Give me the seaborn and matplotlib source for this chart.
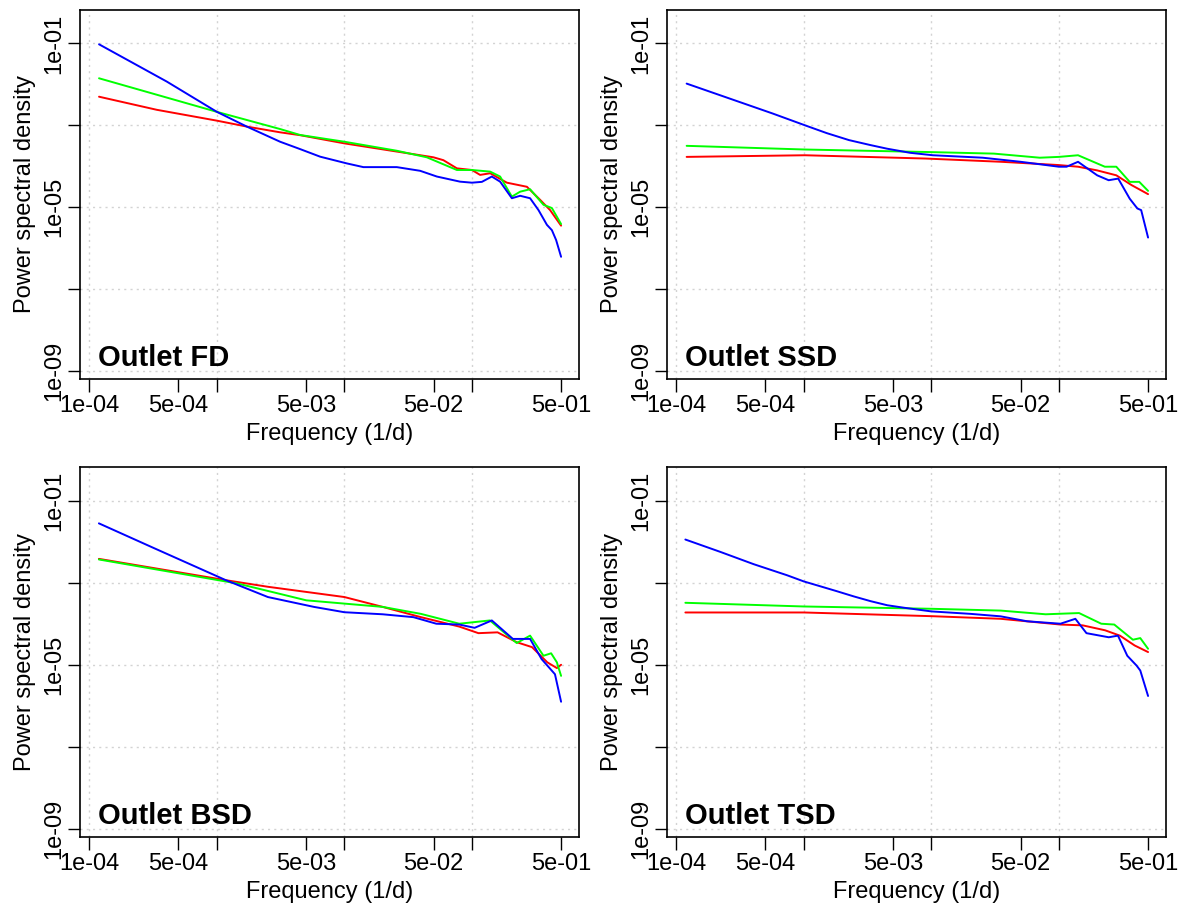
import numpy as np
import pandas as pd
import seaborn as sns
import matplotlib.pyplot as plt
from matplotlib.ticker import NullLocator

# valores: log10(frequencia) e log10(densidade espectral)
# Outlet FD
fd_blue_f = [-3.924, -3.393, -3.0, -2.765, -2.504, -2.347, -2.19, -1.98, -1.851, -1.589, -1.406, -1.275,
             -1.093, -1.0, -0.922, -0.844, -0.779, -0.687, -0.622, -0.544, -0.478, -0.412, -0.373, -0.340, -0.301]
fd_blue_p = [-1.02, -1.93, -2.67, -3.03, -3.40, -3.58, -3.765, -3.93, -4.02, -4.02, -4.11, -4.25,
             -4.375, -4.40, -4.38, -4.25, -4.375, -4.78, -4.72, -4.78, -5.07, -5.43, -5.56, -5.80, -6.21]
fd_red_f = [-3.924, -3.471, -3.0, -2.765, -2.504, -2.347, -2.0, -1.589, -1.302, -1.224, -1.118, -1.0,
            -0.936, -0.857, -0.726, -0.569, -0.465, -0.387, -0.301]
fd_red_p = [-2.30, -2.62, -2.885, -3.03, -3.17, -3.24, -3.44, -3.64, -3.78, -3.85, -4.05, -4.09,
            -4.21, -4.17, -4.40, -4.50, -4.82, -5.07, -5.45]
fd_green_f = [-3.924, -3.0, -2.504, -2.347, -2.0, -1.589, -1.354, -1.118, -1.0, -0.857, -0.779, -0.687,
              -0.622, -0.544, -0.439, -0.373, -0.301]
fd_green_p = [-1.85, -2.67, -3.09, -3.235, -3.40, -3.62, -3.78, -4.09, -4.09, -4.13, -4.25, -4.74,
              -4.62, -4.56, -4.94, -5.02, -5.41]

# Outlet SSD
ssd_blue_f = [-3.919, -3.545, -3.245, -2.99, -2.82, -2.646, -2.48, -2.347, -2.167, -1.988, -1.598, -1.30,
              -1.0, -0.94, -0.85, -0.70, -0.61, -0.535, -0.445, -0.385, -0.355, -0.301]
ssd_blue_p = [-1.98, -2.385, -2.71, -3.0, -3.19, -3.36, -3.48, -3.57, -3.67, -3.73, -3.79, -3.89,
              -4.01, -4.01, -3.89, -4.22, -4.34, -4.30, -4.79, -5.03, -5.07, -5.74]
ssd_red_f = [-3.919, -2.99, -2.047, -1.45, -1.0, -0.85, -0.70, -0.55, -0.43, -0.301]
ssd_red_p = [-3.77, -3.73, -3.81, -3.89, -3.97, -4.01, -4.10, -4.22, -4.46, -4.68]
ssd_green_f = [-3.919, -2.99, -2.047, -1.51, -1.15, -1.0, -0.85, -0.64, -0.55, -0.445, -0.37, -0.301]
ssd_green_p = [-3.50, -3.59, -3.65, -3.69, -3.79, -3.77, -3.73, -4.01, -4.01, -4.38, -4.38, -4.60]

# Outlet BSD
bsd_blue_f = [-3.925, -3.499, -2.929, -2.60, -2.239, -2.0, -1.70, -1.459, -1.279, -1.099, -0.979, -0.844,
              -0.679, -0.544, -0.454, -0.349, -0.301]
bsd_blue_p = [-1.555, -2.15, -2.94, -3.35, -3.59, -3.72, -3.77, -3.84, -4.00, -4.02, -4.10, -3.92,
              -4.37, -4.37, -4.86, -5.23, -5.90]
bsd_red_f = [-3.925, -2.929, -2.60, -2.0, -1.70, -1.40, -1.099, -0.949, -0.799, -0.649, -0.529, -0.409,
             -0.334, -0.301]
bsd_red_p = [-2.42, -2.94, -3.10, -3.35, -3.59, -3.84, -4.07, -4.23, -4.21, -4.45, -4.57, -4.94,
             -5.08, -5.00]
bsd_green_f = [-3.925, -2.839, -2.299, -1.70, -1.40, -1.099, -0.859, -0.649, -0.544, -0.439, -0.379,
               -0.334, -0.301]
bsd_green_p = [-2.435, -3.02, -3.43, -3.59, -3.76, -4.00, -3.92, -4.47, -4.29, -4.78, -4.72,
               -4.94, -5.27]

# Outlet TSD
tsd_blue_f = [-3.929, -3.655, -3.393, -3.131, -3.0, -2.869, -2.739, -2.608, -2.477, -2.346, -2.216, -2.0,
              -1.692, -1.457, -1.25, -0.988, -0.871, -0.784, -0.609, -0.537, -0.464, -0.391, -0.362, -0.301]
tsd_blue_p = [-1.949, -2.25, -2.55, -2.82, -2.97, -3.09, -3.21, -3.335, -3.45, -3.55, -3.61, -3.70,
              -3.76, -3.82, -3.94, -4.00, -3.88, -4.23, -4.33, -4.29, -4.78, -5.02, -5.14, -5.76]
tsd_red_f = [-3.929, -3.0, -2.0, -1.457, -0.988, -0.813, -0.638, -0.522, -0.406, -0.301]
tsd_red_p = [-3.726, -3.726, -3.816, -3.88, -4.02, -4.04, -4.16, -4.29, -4.53, -4.69]
tsd_green_f = [-3.929, -3.0, -2.0, -1.457, -1.104, -0.842, -0.668, -0.566, -0.42, -0.362, -0.301]
tsd_green_p = [-3.49, -3.58, -3.636, -3.68, -3.77, -3.74, -4.00, -4.02, -4.39, -4.35, -4.61]

titles = ["Outlet FD", "Outlet SSD", "Outlet BSD", "Outlet TSD"]
series = [
    {"red": (fd_red_f, fd_red_p), "green": (fd_green_f, fd_green_p), "blue": (fd_blue_f, fd_blue_p)},
    {"red": (ssd_red_f, ssd_red_p), "green": (ssd_green_f, ssd_green_p), "blue": (ssd_blue_f, ssd_blue_p)},
    {"red": (bsd_red_f, bsd_red_p), "green": (bsd_green_f, bsd_green_p), "blue": (bsd_blue_f, bsd_blue_p)},
    {"red": (tsd_red_f, tsd_red_p), "green": (tsd_green_f, tsd_green_p), "blue": (tsd_blue_f, tsd_blue_p)},
]

x_ticks = [1e-4, 5e-4, 1e-3, 5e-3, 1e-2, 5e-2, 1e-1, 5e-1]
x_labels = ["1e-04", "5e-04", "", "5e-03", "", "5e-02", "", "5e-01"]
y_ticks = [1e-9, 1e-7, 1e-5, 1e-3, 1e-1]
y_labels = ["1e-09", "", "1e-05", "", "1e-01"]
x_grid = [1e-4, 1e-3, 1e-2, 1e-1]

cores = {"red": "#FF0000", "green": "#00FF00", "blue": "#0000FF"}

sns.set_style("white")
plt.rcParams['font.family'] = ['Liberation Sans', 'DejaVu Sans']
plt.rcParams['text.color'] = 'black'
plt.rcParams['axes.labelcolor'] = 'black'
plt.rcParams['xtick.color'] = 'black'
plt.rcParams['ytick.color'] = 'black'

fig = plt.figure(figsize=(11.82, 9.08), dpi=100)
posicoes = [[0.0677, 0.5826, 0.4222, 0.4064], [0.5643, 0.5826, 0.4222, 0.4064],
            [0.0677, 0.0782, 0.4222, 0.4075], [0.5643, 0.0782, 0.4222, 0.4075]]

for pos, titulo, dados in zip(posicoes, titles, series):
    ax = fig.add_axes(pos)
    ax.set_xscale('log')
    ax.set_yscale('log')

    # grade pontilhada
    for g in x_grid:
        ax.axvline(g, color='#D3D3D3', lw=1, ls=(0, (1.5, 3)), zorder=0)
    for g in y_ticks:
        ax.axhline(g, color='#D3D3D3', lw=1, ls=(0, (1.5, 3)), zorder=0)

    linhas = []
    for nome, (lf, lp) in dados.items():
        linhas.append(pd.DataFrame({'freq': np.power(10.0, lf), 'psd': np.power(10.0, lp), 'serie': nome}))
    df = pd.concat(linhas, ignore_index=True)
    sns.lineplot(data=df, x='freq', y='psd', hue='serie', hue_order=['red', 'green', 'blue'],
                 palette=cores, estimator=None, sort=False, legend=False, lw=1.4, ax=ax)

    ax.set_xlim(10 ** -4.073, 10 ** -0.160)
    ax.set_ylim(10 ** -9.195, 10 ** -0.182)
    ax.set_xticks(x_ticks)
    ax.set_xticklabels(x_labels)
    ax.set_yticks(y_ticks)
    ax.set_yticklabels(y_labels)
    ax.xaxis.set_minor_locator(NullLocator())
    ax.yaxis.set_minor_locator(NullLocator())
    ax.tick_params(axis='both', direction='out', length=9, width=1, color='black',
                   labelcolor='black', labelsize=17, left=True, bottom=True)
    ax.tick_params(axis='x', pad=2.5)
    ax.tick_params(axis='y', pad=1.5, labelrotation=90)
    for lab in ax.get_yticklabels():
        lab.set_va('center')

    for sp in ax.spines.values():
        sp.set_visible(True)
        sp.set_color('black')
        sp.set_linewidth(1.2)

    ax.set_xlabel('Frequency (1/d)', fontsize=17, color='black')
    ax.set_ylabel('Power spectral density', fontsize=17, color='black')
    ax.xaxis.set_label_coords(0.5, -0.12)
    ax.yaxis.set_label_coords(-0.088, 0.5)

    ax.text(0.037, 0.035, titulo, transform=ax.transAxes, fontsize=21, fontweight='bold',
            color='black', ha='left', va='baseline')

fig.savefig('out.png', dpi=100)
